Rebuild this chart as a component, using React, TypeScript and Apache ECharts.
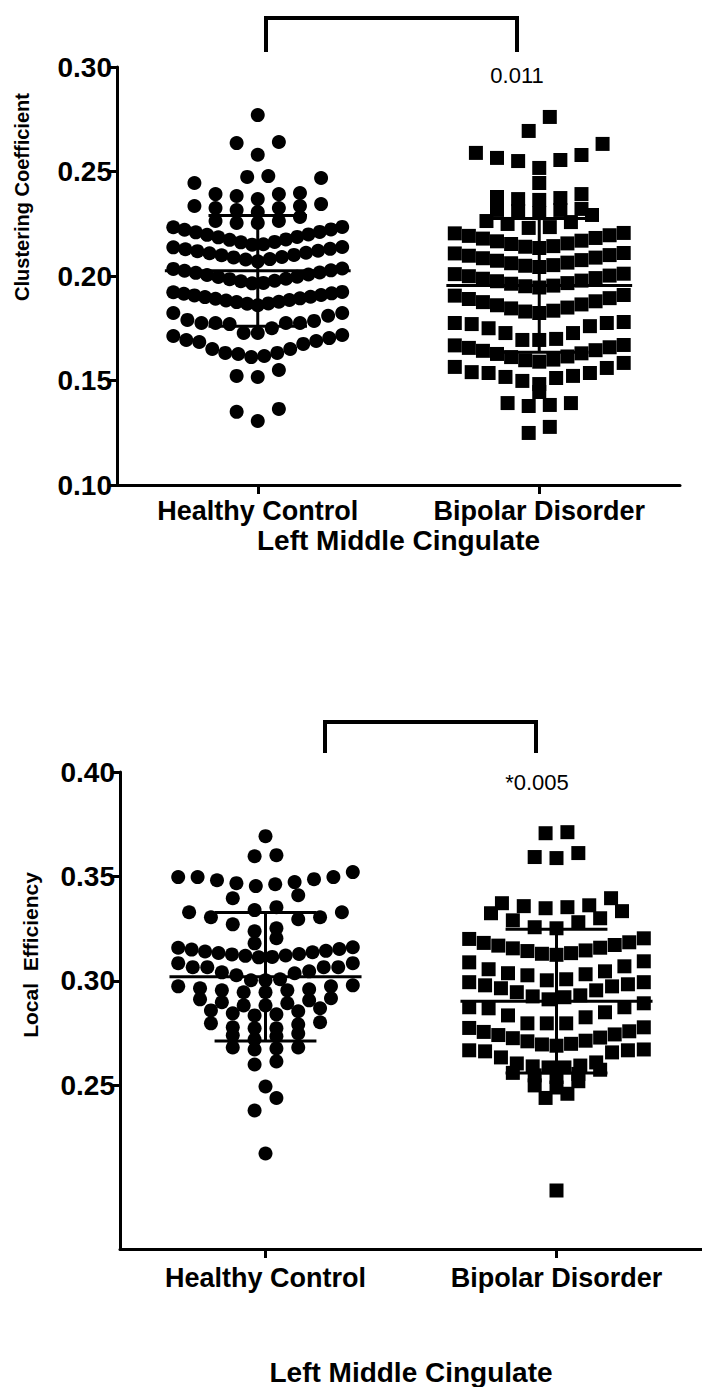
import React, { useEffect, useRef } from 'react';
import * as echarts from 'echarts';

const categories = ['Healthy Control', 'Bipolar Disorder'];
const xTitle = 'Left Middle Cingulate';
const topYTitle = 'Clustering Coefficient';
const bottomYTitle = 'Local  Efficiency';
const clusteringTicks = [0.1, 0.15, 0.2, 0.25, 0.3];
const efficiencyTicks = [0.25, 0.3, 0.35, 0.4];
const clusteringMean = [0.2025, 0.1955];
const clusteringSD = [0.0265, 0.032];
const efficiencyMean = [0.302, 0.2903];
const efficiencySD = [0.0307, 0.0344];
const pClustering = '0.011';
const pEfficiency = '*0.005';

// Clustering coefficient, Healthy Control (rows of the dot plot)
const hcClusteringRows = [
  [0.277],
  [0.258, 0.2636, 0.2641],
  [0.2474, 0.2478],
  [0.2368, 0.2383, 0.2392, 0.2392, 0.2397, 0.2445, 0.2469],
  [0.2306, 0.2316, 0.2325, 0.2325, 0.2335, 0.2335, 0.2344],
  [0.2254, 0.2254, 0.2263, 0.2263, 0.2282],
  [0.215, 0.2152, 0.2161, 0.2163, 0.2173, 0.2175, 0.2185, 0.2187, 0.2197, 0.2199, 0.2209, 0.2211, 0.2221, 0.2223, 0.2233, 0.2235],
  [0.207, 0.2079, 0.2081, 0.2089, 0.2091, 0.2099, 0.2101, 0.2109, 0.2111, 0.2119, 0.2121, 0.2128, 0.213, 0.2137, 0.2139],
  [0.1965, 0.1967, 0.1975, 0.1977, 0.1985, 0.1987, 0.1995, 0.1997, 0.2005, 0.2007, 0.2015, 0.2017, 0.2025, 0.2027, 0.2034, 0.2036],
  [0.186, 0.1867, 0.1869, 0.1875, 0.1877, 0.1883, 0.1885, 0.1891, 0.1893, 0.1899, 0.1901, 0.1907, 0.1909, 0.1915, 0.1917, 0.1922, 0.1924],
  [0.1727, 0.1727, 0.175, 0.177, 0.1775, 0.1775, 0.1775, 0.1775, 0.1785, 0.179, 0.181, 0.1823, 0.1823],
  [0.1612, 0.1617, 0.1627, 0.1632, 0.1632, 0.1651, 0.1651, 0.1675, 0.1684, 0.1689, 0.1694, 0.1703, 0.1713, 0.1718],
  [0.1517, 0.1522, 0.155],
  [0.1306, 0.135, 0.1364],
];

// Clustering coefficient, Bipolar Disorder
const bdClusteringRows = [
  [0.2694, 0.2761],
  [0.2517, 0.255, 0.2555, 0.2565, 0.2579, 0.2589, 0.2632],
  [0.2445],
  [0.2364, 0.2368, 0.2373, 0.2378, 0.2392],
  [0.2301, 0.2311, 0.2316, 0.2316, 0.2321],
  [0.223, 0.2234, 0.2249, 0.2258, 0.2263, 0.2292],
  [0.2134, 0.214, 0.2143, 0.2153, 0.2156, 0.2166, 0.2169, 0.2179, 0.2182, 0.2192, 0.2195, 0.2204, 0.2206],
  [0.2043, 0.2049, 0.2052, 0.2061, 0.2064, 0.2073, 0.2076, 0.2085, 0.2088, 0.2097, 0.21, 0.2108, 0.211],
  [0.1945, 0.1951, 0.1954, 0.1963, 0.1966, 0.1975, 0.1978, 0.1987, 0.199, 0.1999, 0.2002, 0.2009, 0.2011],
  [0.1823, 0.183, 0.1834, 0.1845, 0.1849, 0.186, 0.1864, 0.1875, 0.1879, 0.189, 0.1894, 0.1906, 0.1909],
  [0.1694, 0.1694, 0.1699, 0.1727, 0.1727, 0.175, 0.176, 0.177, 0.1775, 0.1775, 0.178],
  [0.159, 0.1597, 0.16, 0.1612, 0.1615, 0.1627, 0.163, 0.1642, 0.1645, 0.1656, 0.1659, 0.1668, 0.167],
  [0.1483, 0.1498, 0.1512, 0.1517, 0.1522, 0.1536, 0.1536, 0.154, 0.156, 0.1565, 0.1584],
  [0.1445],
  [0.1378, 0.1383, 0.1392, 0.1392],
  [0.1249, 0.1278],
];

// Local efficiency, Healthy Control
const hcEfficiencyRows = [
  [0.3693],
  [0.3597, 0.3602],
  [0.3454, 0.3463, 0.3468, 0.3473, 0.3482, 0.3487, 0.3497, 0.3497, 0.3497, 0.3521],
  [0.3339, 0.3353, 0.3396, 0.341],
  [0.3238, 0.3252, 0.3271, 0.3295, 0.3305, 0.3305, 0.3329, 0.3329],
  [0.318, 0.3204],
  [0.3113, 0.3115, 0.312, 0.3122, 0.3127, 0.3129, 0.3134, 0.3137, 0.3141, 0.3144, 0.315, 0.3153, 0.3159, 0.3161],
  [0.3003, 0.3003, 0.3008, 0.3027, 0.3037, 0.3041, 0.3046, 0.3066, 0.3066, 0.3066, 0.3066, 0.3085, 0.3085],
  [0.2946, 0.2946, 0.2955, 0.2955, 0.296, 0.2965, 0.2974, 0.2974, 0.2979],
  [0.2883, 0.2883, 0.2893, 0.2898, 0.2907, 0.2912, 0.2917],
  [0.2835, 0.284, 0.2845, 0.2855, 0.2859, 0.2869],
  [0.2773, 0.2773, 0.2778, 0.2792, 0.2797, 0.2802],
  [0.272, 0.2735, 0.274, 0.2749],
  [0.2672, 0.2677, 0.2682, 0.2682],
  [0.26, 0.2615],
  [0.2495],
  [0.238, 0.244],
  [0.2174],
];

// Local efficiency, Bipolar Disorder
const bdEfficiencyRows = [
  [0.3707, 0.3712],
  [0.3588, 0.3593, 0.3612],
  [0.3348, 0.3353, 0.3358, 0.3362, 0.3372, 0.3396],
  [0.3252, 0.3257, 0.3281, 0.329, 0.33, 0.3324, 0.3334],
  [0.3125, 0.313, 0.3133, 0.3143, 0.3146, 0.3156, 0.3159, 0.3169, 0.3172, 0.3182, 0.3185, 0.3201, 0.3204],
  [0.3003, 0.3008, 0.3027, 0.3032, 0.3037, 0.3046, 0.3056, 0.307, 0.3089, 0.3094],
  [0.2912, 0.2922, 0.2926, 0.2931, 0.2946, 0.2955, 0.2965, 0.2974, 0.2979, 0.2984, 0.2994, 0.2994],
  [0.2797, 0.2797, 0.2797, 0.2826, 0.2835, 0.285, 0.2869, 0.2874, 0.2874, 0.2893],
  [0.269, 0.2696, 0.2699, 0.2711, 0.2714, 0.2726, 0.2729, 0.2741, 0.2744, 0.2756, 0.2759, 0.2775, 0.2778],
  [0.2586, 0.2586, 0.2591, 0.2595, 0.2605, 0.261, 0.2634, 0.2658, 0.2663, 0.2668, 0.2668, 0.2672],
  [0.254, 0.2548, 0.2555, 0.256, 0.2575],
  [0.249, 0.25, 0.252],
  [0.244, 0.246],
  [0.1997],
];

// dot-plot layout: each row spreads outward from the group centre
function swarm(center: number, rows: number[][], base = 0.075, maxHalf = 0.3) {
  const pts: number[][] = [];
  rows.forEach((row) => {
    const vals = [...row].sort((a, b) => a - b);
    const n = vals.length;
    const s = n > 1 ? Math.min(base, (2 * maxHalf) / (n - 1)) : 0;
    const offs: number[] = [];
    if (n % 2 === 1) {
      offs.push(0);
      for (let k = 1; offs.length < n; k++) {
        offs.push(-k);
        if (offs.length < n) offs.push(k);
      }
    } else {
      for (let k = 0.5; offs.length < n; k++) {
        offs.push(-k);
        if (offs.length < n) offs.push(k);
      }
    }
    vals.forEach((v, i) => pts.push([center + offs[i] * s, v]));
  });
  return pts;
}

const FONT = '"Liberation Sans", Arial, sans-serif';

function errorBarRender(params: any, api: any) {
  const x = api.value(0);
  const m = api.value(1);
  const sd = api.value(2);
  const c = api.coord([x, m]);
  const t = api.coord([x, m + sd]);
  const b = api.coord([x, m - sd]);
  const hm = api.size([0.33, 0])[0];
  const hs = api.size([0.175, 0])[0];
  const st = { stroke: '#000', lineWidth: 3 };
  return {
    type: 'group',
    children: [
      { type: 'line', shape: { x1: c[0] - hm, y1: c[1], x2: c[0] + hm, y2: c[1] }, style: st },
      { type: 'line', shape: { x1: t[0], y1: t[1], x2: b[0], y2: b[1] }, style: st },
      { type: 'line', shape: { x1: t[0] - hs, y1: t[1], x2: t[0] + hs, y2: t[1] }, style: st },
      { type: 'line', shape: { x1: b[0] - hs, y1: b[1], x2: b[0] + hs, y2: b[1] }, style: st },
    ],
  };
}

function xAxisFor(gridIndex: number, nameGap: number, labelMargin: number) {
  return {
    gridIndex,
    type: 'value',
    min: -0.5,
    max: 1.5,
    axisLine: { onZero: false, lineStyle: { color: '#000', width: 3 } },
    axisTick: { customValues: [0, 1], length: 9, lineStyle: { color: '#000', width: 3 } },
    axisLabel: {
      customValues: [0, 1],
      formatter: (v: number) => categories[Math.round(v)],
      color: '#000',
      fontSize: 27,
      fontWeight: 'bold',
      fontFamily: FONT,
      margin: labelMargin,
    },
    splitLine: { show: false },
    name: xTitle,
    nameLocation: 'middle',
    nameGap,
    nameTextStyle: { color: '#000', fontSize: 28, fontWeight: 'bold', fontFamily: FONT },
  };
}

const scatterStyle = { color: '#000', opacity: 1 };

export default function App() {
  const ref = useRef<HTMLDivElement>(null);
  useEffect(() => {
    if (!ref.current) return;
    const chart = echarts.init(ref.current, null, { renderer: 'svg' });
    const option: any = {
      animation: false,
      backgroundColor: '#fff',
      grid: [
        { left: 117, top: 67, width: 563, height: 418 },
        { left: 120, top: 772, width: 582, height: 487 },
      ],
      xAxis: [xAxisFor(0, 41, 12), xAxisFor(1, 109, 15)],
      yAxis: [
        {
          gridIndex: 0,
          type: 'value',
          min: clusteringTicks[0],
          max: clusteringTicks[clusteringTicks.length - 1],
          interval: 0.05,
          axisLine: { show: true, onZero: false, lineStyle: { color: '#000', width: 3 } },
          axisTick: { show: true, length: 8, lineStyle: { color: '#000', width: 3 } },
          axisLabel: { color: '#000', fontSize: 28, fontWeight: 'bold', fontFamily: FONT, margin: 5, formatter: (v: number) => v.toFixed(2) },
          splitLine: { show: false },
        },
        {
          gridIndex: 1,
          type: 'value',
          min: 0.1717,
          max: 0.4,
          axisLine: { show: true, onZero: false, lineStyle: { color: '#000', width: 3 } },
          axisTick: { show: true, customValues: efficiencyTicks, length: 8, lineStyle: { color: '#000', width: 3 } },
          axisLabel: { customValues: efficiencyTicks, color: '#000', fontSize: 28, fontWeight: 'bold', fontFamily: FONT, margin: 5, formatter: (v: number) => v.toFixed(2) },
          splitLine: { show: false },
        },
      ],
      series: [
        { type: 'scatter', xAxisIndex: 0, yAxisIndex: 0, symbol: 'circle', symbolSize: 14, itemStyle: scatterStyle, data: swarm(0, hcClusteringRows) },
        { type: 'scatter', xAxisIndex: 0, yAxisIndex: 0, symbol: 'rect', symbolSize: 14, itemStyle: scatterStyle, data: swarm(1, bdClusteringRows) },
        { type: 'scatter', xAxisIndex: 1, yAxisIndex: 1, symbol: 'circle', symbolSize: 14, itemStyle: scatterStyle, data: swarm(0, hcEfficiencyRows) },
        { type: 'scatter', xAxisIndex: 1, yAxisIndex: 1, symbol: 'rect', symbolSize: 14, itemStyle: scatterStyle, data: swarm(1, bdEfficiencyRows) },
        {
          type: 'custom', xAxisIndex: 0, yAxisIndex: 0, z: 5, renderItem: errorBarRender,
          data: clusteringMean.map((m, i) => [i, m, clusteringSD[i]]),
        },
        {
          type: 'custom', xAxisIndex: 1, yAxisIndex: 1, z: 5, renderItem: errorBarRender,
          data: efficiencyMean.map((m, i) => [i, m, efficiencySD[i]]),
        },
      ],
      graphic: [
        { type: 'polyline', shape: { points: [[266, 52], [266, 18], [517, 18], [517, 52]] }, style: { stroke: '#000', lineWidth: 4, fill: 'none' } },
        { type: 'polyline', shape: { points: [[325, 753], [325, 722], [536, 722], [536, 753]] }, style: { stroke: '#000', lineWidth: 4, fill: 'none' } },
        { type: 'text', x: 517, y: 75, style: { text: pClustering, fill: '#000', fontSize: 22, fontFamily: FONT, align: 'center', verticalAlign: 'middle' } },
        { type: 'text', x: 537, y: 782, style: { text: pEfficiency, fill: '#000', fontSize: 22, fontFamily: FONT, align: 'center', verticalAlign: 'middle' } },
        { type: 'text', x: 22, y: 197, rotation: Math.PI / 2, style: { text: topYTitle, fill: '#000', fontSize: 20, fontWeight: 'bold', fontFamily: FONT, align: 'center', verticalAlign: 'middle' } },
        { type: 'text', x: 30, y: 955, rotation: Math.PI / 2, style: { text: bottomYTitle, fill: '#000', fontSize: 21, fontWeight: 'bold', fontFamily: FONT, align: 'center', verticalAlign: 'middle' } },
      ],
    };
    chart.setOption(option);
    return () => chart.dispose();
  }, []);
  return <div ref={ref} style={{ position: 'absolute', left: 0, top: 0, width: 702, height: 1387 }} />;
}
